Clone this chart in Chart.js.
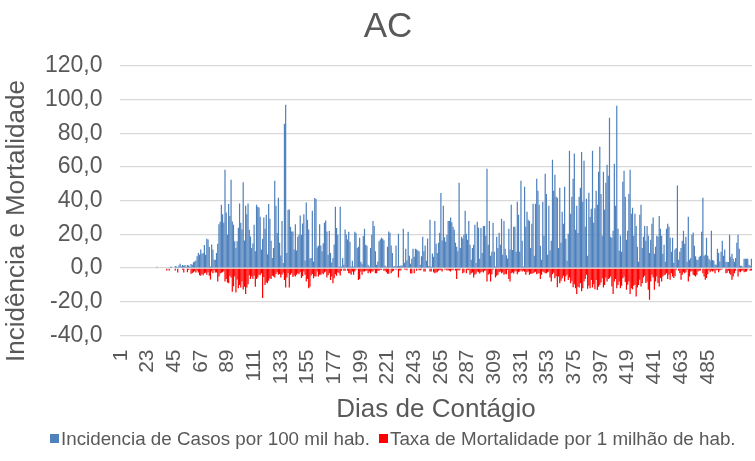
<!DOCTYPE html>
<html>
<head>
<meta charset="utf-8">
<script src="https://cdn.jsdelivr.net/npm/chart.js@4.4.1/dist/chart.umd.min.js"></script>
<style>
  html, body { margin: 0; padding: 0; background: #ffffff; }
  #wrap { width: 755px; height: 461px; }
</style>
</head>
<body>
<div id="wrap"><canvas id="c" width="755" height="461"></canvas></div>
<script>
// ---- DATA ----
const chartTitle = 'AC';
const xAxisTitle = 'Dias de Contágio';
const yAxisTitle = 'Incidência e Mortalidade';
const seriesNames = ['Incidencia de Casos por 100 mil hab.', 'Taxa de Mortalidade por 1 milhão de hab.'];

const dayCount = 521;
const categories = Array.from({length: dayCount}, (_, i) => i + 1);
const xTickLabels = [1, 23, 45, 67, 89, 111, 133, 155, 177, 199, 221, 243, 265, 287, 309, 331, 353, 375, 397, 419, 441, 463, 485];
const yTickValues = [-40, -20, 0, 20, 40, 60, 80, 100, 120];

const incidencia = [
  0,0,0,0,0,0,0,0,0,0, 0,0,0,0,0,0,0,0,0,0, 0,0,0,0,0,0,0,0,0,0,
  0.8, 0,0,0,0,0,0,0,0,0,0,
  0.8,0.8,0.3,0,1.2,1.0,0.5,1.5,2.6,1.0,
  1.8,1.5,1.8,0.8,1.8,1.5,1.0,2.5,2.0,3.5,
  4.0,4.5,7.0,9.0,8.0,11.0,8.5,9.0,13.7,8.0,
  17.5,17.0,12.5,1.0,14.0,11.0,5.0,5.0,9.0,14.5,
  26.0,27.5,37.6,32.0,27.0,
  58.4,33,20,38,31,52.5,27.7,25.7,16,12,
  16,24,38.4,27,23,51,16.4,37,32,38.4,
  22.8,18.8,12,14.6,25.7,10,37.6,36.4,36,30.5,
  11,17.4,30,23.4,31.7,8.3,38,29.3,16.2,6,
  12,51.9,37,20.8,41.8,15,7.5,28,3,85.7,
  97,9,34.5,35,24.5,21.8,21.8,11,26,10.5,
  18.6,19.8,31.3,19.8,26.5,32,4.5,39,28.7,23,
  5.7,6,34,4,41.6,41,12.3,13.3,26,13.5,
  10,14.8,27,28.3,21.8,8,22,
  9,3.4,6,14,36.4,23.8,19.8,1,36.4,1,
  6,2,23,20,17,21.6,15.6,1,4.4,1,
  21.6,20.8,12,12.7,18,3.8,2.6,19,23.4,13.9,
  13.3,2,1,12,19.8,28,25,10,2,4,
  16,17,18,17.4,16.6,1.6,0.8,12.7,21.8,21,
  13.5,9,1,1.2,13.5,1.2,20.4,1.2,1.6,1.6,
  23.4,3.2,11.5,4.6,21.6,7.3,2.6,5.5,11.5,6.7,
  11.5,11,10.5,10,2,7,18.6,10,13.5,4.4,
  17.6,1.2,28.7,1,8.7,6.7,
  28,14.5,9,15,21,44.6,16.4,37,18.4,15.6,
  19.8,28,28,30,27.3,24.5,22.8,15,12.7,10,
  50.7,12,18.6,17.6,19.8,34,20.4,16.8,28,13.9,
  5,12,13.9,25.7,3,27.5,24,5.5,23.8,9,
  25,25,19.2,59,13.9,28,7.3,9.7,27,9.7,
  1,18.6,12,21,13.9,29.3,8,28,11.5,7.7,
  5.7,23.4,11,37.6,10.7,24.5,24.5,9.7,39.4,31.7,
  9.7,51.9,16.2,1,48.3,24.5,33.5,28.7,28,12,
  26.3,38.2,7.3,38.2,53,46,37.6,
  13.3,5,39.4,19.2,56,44,8,37,10.5,16.2,
  64.4,46,55.4,42.4,41.8,12,47.7,15,33.5,26.3,
  48.3,17.4,4.4,20.4,69.7,32.3,42.4,53,68,22.8,
  37,20.8,42.4,47.7,69,39.4,63.8,24.5,41.2,7.3,
  44.7,30.3,35.2,69.7,27,35.6,46,37.6,57.2,72,
  44,19.2,57.2,34.6,50.7,61.4,54.8,89.3,18.6,18,
  22.2,62,37,96.4,23.4,10.3,19.4,9.7,51.3,57.8,
  42.4,16.8,22.2,44,58.4,32.3,35.8,19.2,32.3,25,
  12.7,3.8,31.7,37.6,12,18.6,25,
  16.2,25,19.2,9,16.8,26.3,30,8.5,12.7,19.2,
  18.6,31,23.4,19.2,8.5,13.9,3.8,23.4,26.3,24.5,
  18,9.7,18,3.2,11,12,49,5,9.7,12,
  16.2,22.2,14.5,18.6,3.8,30.5,5,6,19.8,21.2,
  13.3,7,5,5,6.7,7.3,21.6,41.8,7.3,8,
  18,7.3,5.5,4.6,22.2,4.8,4.4,2.2,2,11.5,
  9,4,9.7,16.2,7.3,11,3.8,3.6,3.6,19.8,
  6.7,8.5,5.5,3.8,6,15,19.8,11.5,1.4,1.4,
  0.8,5.5,5.5,5.5,5.5,2,1.4,5.5
];

const mortalidade = [
  0,0,0,0,0,0,0,0,0,0, 0,0,0,0,0,0,0,0,0,0, 0,0,0,0,0,0,0,0,0,0, 0,0,0,0,0,0,0,0,
  -1.4,0,-1.4,0,0,0,0,-1.4,0,-2.6,
  0,0,0,-1.0,-2.6,0,0,-2.4,-1.0,0,
  -3.4,-3.0,-2.4,-1.8,-2.6,-1.5,-2.6,-4.2,-4.5,-3.5,
  -4.2,-3.0,-2.8,-4.0,-2.5,-4.5,-6.7,-2.0,-3.0,-1.2,
  -2.6,-2.6,-8.0,-5.0,-3.2,-2.8,-2.4,-1.8,
  -8,-6.5,-8.5,-9,-4.6,-5.5,-14,-10.7,-5,-14.5,
  -6.7,-12,-10,-11.5,-8,-12.7,-11,-15.4,-11.5,-9.5,
  -4.2,-6.5,-5,-6.3,-4.5,-11,-6.5,-5.5,-4,-4.2,
  -3,-17.8,-5.2,-10,-8.5,-9,-7.5,-6,-6.5,-4.5,
  -5,-5.5,-3.6,-2.4,-4,-3.5,-5.5,-4,-2.8,-7,
  -11.5,-5.5,-3,-11.5,-4,-3,-5.3,-4.4,-5,-4,
  -3,-3.6,-2.5,-5.9,-4.8,-2,-4,-8,-6.5,-12,
  -11,-4.4,-3.5,-6,-4.8,-5,-2,-5,-4,-4,
  -3,-3.6,-2.6,-2,-5.5,-4.2,-3,
  -7,-5,-9,-6,-3.6,-4.6,-2.5,-3,-4.4,-1.6,
  0,-1.6,-1.6,0,-1.5,-3,-3,-4,-2,-4,
  -2,-1,0,-7,-6.5,-2,-4,-2,-2,-1.6,
  -1.6,-3,-2,-3,-2,-2,-1,-3,-3,-1.6,
  -1.6,-1,-1,0,-1.6,-1.6,-2.4,-3.4,-3.4,0,
  -3,-2,-1.6,0,-1,0,-5.5,-1.4,-1.4,0,
  0,-0.8,-0.8,-1.2,0,0,-3.2,-3.2,0,-3,
  0,-1.6,0,-1.2,-1.2,-0.8,0,-2,-2,0,
  0,0,-2,-2,0,-2.4,
  -3,-2.6,-2.5,-1.6,-1,-1.2,-2,0,-0.8,-0.8,
  -1.4,-1.2,-1.6,-2,-1,-1.2,0,-1.6,-6.5,-1.2,
  -1.4,-0.8,0,-3,-2.6,0,-3,-1,-1.2,-4,
  -3,-2.6,-5.5,-4,-3.4,-2,-2.4,-3.2,-2.4,-2,
  -2.6,-1.6,-1.4,-8,-4,-3.4,-8,-3.6,-1,0,
  -5.5,-4.5,-4,-2.4,-2,-3,-2.6,-4,-3.4,-3.6,
  -1,-6.5,-8,-3,-2.6,-3.2,-2,-1.8,-3.6,-2.4,
  -2,-1.4,-2,-1.6,-2.2,-4,-2.4,-2,-4,-3.4,
  -3.4,-3,-2.6,-2.2,-3.6,-3.2,-3,
  -6.5,-4,-2,-2.5,-3,-3,-2.4,-2,-5.5,-8,
  -3.6,-2.8,-6,-4.8,-11.3,-5,-9,-7.5,-6,-4.5,
  -8,-5,-4,-7,-5.5,-9,-7.5,-11.3,-9.5,-11.9,
  -15.4,-11,-11.5,-9,-13.8,-12,-8,-6.5,-4,-12.3,
  -10.5,-11.9,-7,-11.5,-9.5,-12.5,-7,-13,-11,-10,
  -8.5,-6,-11.5,-10,-5.5,-8,-6.5,-6,-5,-10.9,
  -15.4,-8,-6.5,-11.9,-10,-8,-11.9,-10.5,-6,-5,
  -8.3,-12.9,-9.9,-8,-15.4,-11.9,-12.5,-10.5,-9.9,-16.8,
  -11.5,-10,-6.9,-10.9,-9,-5.5,-4.5,
  -8.9,-8,-12.9,-18.8,-7.9,-4,-5.5,-12.9,-7.9,-5,
  -8.9,-10.9,-5.9,-7.9,-5,-4.2,-4,-3,-6.5,-4,
  -6.9,-3,-5,-5.9,-4.8,-1,0,-1.6,-3,-6.9,
  -4,-2.4,-3,-2.5,-1,-7.9,-5,-2,-1.8,-4,
  -4.4,-5,-4,-2,-1.6,-1.4,0,-3,-5,-6.9,
  -5.9,-3.6,-1.4,-2.4,-1.6,-2,-1.6,-3,-1.2,-1,
  -2.4,-1.2,-1,-0.6,0,0,-3,-2.8,-1.6,-3.2,
  -4,-6.9,-5,-3,-1.6,0,-5,-2,-2.4,-1.6,
  -1.4,-2.4,-2.2,-2,-0.8,0,-1.6,-1.4
];

const seriesColors = ['#4F81BD', '#FF0000'];
const textColor = '#595959';

// ---- CHART ----
Chart.defaults.font.family = '"Liberation Sans", Arial, Helvetica, sans-serif';
Chart.defaults.color = textColor;

const PLOT_LEFT = 120.1, PLOT_BOTTOM = 335.5, CANVAS_H = 461, LEFT_PAD = 24;
const legendBoxX = [50, 379];

const overlay = {
  id: 'overlay',
  afterDraw(chart) {
    const ctx = chart.ctx;
    ctx.save();
    ctx.fillStyle = textColor;
    ctx.font = '26px "Liberation Sans", Arial, sans-serif';
    ctx.translate(17, 221);
    ctx.rotate(-Math.PI / 2);
    ctx.textAlign = 'center';
    ctx.textBaseline = 'middle';
    ctx.fillText(yAxisTitle, 0, 0);
    ctx.restore();

    ctx.save();
    ctx.font = '18.8px "Liberation Sans", Arial, sans-serif';
    ctx.textAlign = 'left';
    ctx.textBaseline = 'alphabetic';
    chart.data.datasets.forEach((ds, i) => {
      const x = legendBoxX[i];
      ctx.fillStyle = ds.backgroundColor;
      ctx.fillRect(x, 434, 9, 9);
      ctx.fillStyle = textColor;
      ctx.fillText(ds.label, x + 11, 445);
    });
    ctx.restore();
  }
};

new Chart(document.getElementById('c'), {
  type: 'bar',
  data: {
    labels: categories,
    datasets: [
      { label: seriesNames[0], data: incidencia, backgroundColor: seriesColors[0], borderWidth: 0, inflateAmount: 0, barPercentage: 1.0, categoryPercentage: 1.0 },
      { label: seriesNames[1], data: mortalidade, backgroundColor: seriesColors[1], borderWidth: 0, inflateAmount: 0, barPercentage: 1.0, categoryPercentage: 1.0 }
    ]
  },
  options: {
    responsive: false,
    animation: false,
    devicePixelRatio: 1,
    layout: { padding: { left: LEFT_PAD, right: 3, top: 0, bottom: 0 } },
    plugins: {
      legend: { display: false },
      tooltip: { enabled: false },
      title: {
        display: true,
        text: chartTitle,
        color: textColor,
        font: { size: 35, weight: 'normal' },
        padding: { top: 6, bottom: 18 }
      }
    },
    scales: {
      x: {
        stacked: true,
        offset: true,
        grid: { display: false, drawTicks: false },
        border: { display: false },
        ticks: {
          autoSkip: false,
          maxRotation: 90,
          minRotation: 90,
          padding: 14,
          color: textColor,
          font: { size: 21 },
          callback: function (value, index) {
            const lab = categories[index];
            return xTickLabels.includes(lab) ? String(lab) : '';
          }
        },
        title: {
          display: true,
          text: xAxisTitle,
          color: textColor,
          font: { size: 26 },
          padding: { top: 0, bottom: 36 }
        },
        afterFit(scale) {
          scale.height = CANVAS_H - PLOT_BOTTOM;
          scale.paddingLeft = 0;
          scale.paddingRight = 0;
        }
      },
      y: {
        stacked: true,
        min: -40,
        max: 120,
        afterBuildTicks(scale) { scale.ticks = yTickValues.map(v => ({ value: v })); },
        grid: { color: '#D9D9D9', lineWidth: 1.3, drawTicks: false },
        border: { display: false },
        ticks: {
          padding: 17.6,
          color: textColor,
          font: { size: 23 },
          callback: (v) => Number(v).toFixed(1).replace('.', ',')
        },
        afterFit(scale) {
          scale.width = PLOT_LEFT - LEFT_PAD;
          scale.paddingTop = 0;
          scale.paddingBottom = 0;
        }
      }
    }
  },
  plugins: [overlay]
});
</script>
</body>
</html>
